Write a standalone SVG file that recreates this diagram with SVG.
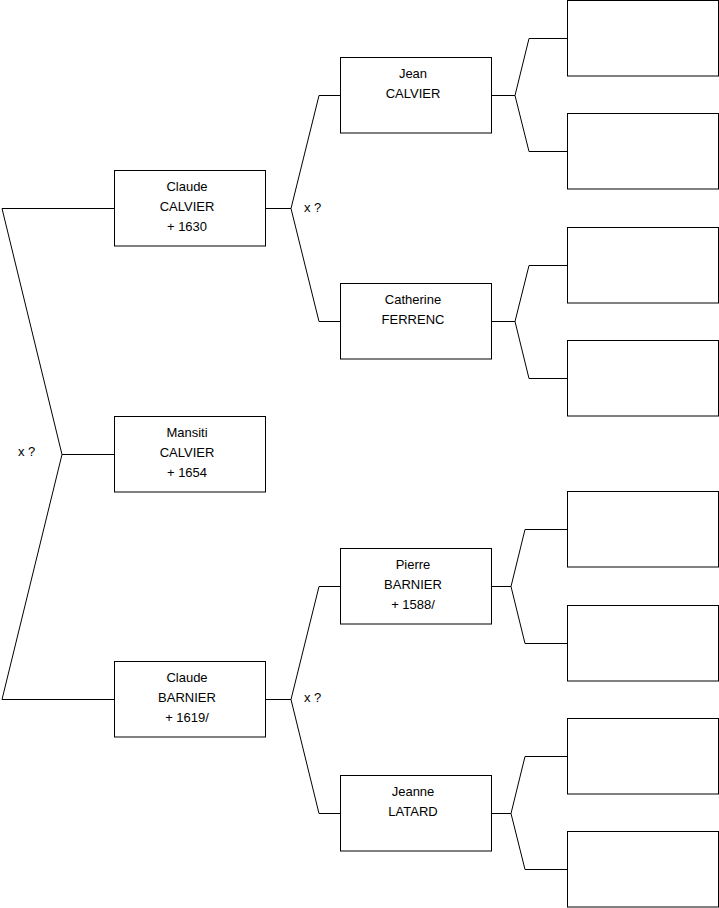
<svg xmlns="http://www.w3.org/2000/svg" width="719" height="908" viewBox="0 0 719 908">
<style>
rect{fill:#fff;stroke:#000;stroke-width:1}
.c path{fill:none;stroke:#000;stroke-width:1}
text{font-family:"Liberation Sans",Arial,sans-serif;font-size:13px;fill:#000;text-anchor:middle}
.l{text-anchor:start}
</style>
<rect x="0" y="0" width="719" height="908" style="stroke:none"/>
<g class="c" id="connectors">
<path d="M114,208.5 H2 L62,454.5 L2,699.5 H114"/>
<path d="M62,454.5 H114"/>
<path d="M265,208.5 H291 L319,95.5 H341 M291,208.5 L319,321.5 H341"/>
<path d="M265,699.5 H291 L319,586.5 H341 M291,699.5 L319,813.5 H341"/>
<path d="M491,95.5 H515 L529,38.5 H567 M515,95.5 L529,151.5 H567"/>
<path d="M491,321.5 H515 L529,265.5 H567 M515,321.5 L529,378.5 H567"/>
<path d="M491,586.5 H511 L525,529.5 H567 M511,586.5 L525,643.5 H567"/>
<path d="M491,813.5 H511 L525,756.5 H567 M511,813.5 L525,869.5 H567"/>
<text class="l" x="304" y="212">x ?</text>
<text class="l" x="304" y="702">x ?</text>
<text class="l" x="18" y="456">x ?</text>
</g>
<g id="claude-calvier"><rect x="114.5" y="170.5" width="151" height="75.5"/><text x="187" y="191">Claude</text><text x="187" y="211">CALVIER</text><text x="187" y="231">+ 1630</text></g>
<g id="mansiti-calvier"><rect x="114.5" y="416.5" width="151" height="75.5"/><text x="187" y="437">Mansiti</text><text x="187" y="457">CALVIER</text><text x="187" y="477">+ 1654</text></g>
<g id="claude-barnier"><rect x="114.5" y="661.5" width="151" height="75.5"/><text x="187" y="682">Claude</text><text x="187" y="702">BARNIER</text><text x="187" y="722">+ 1619/</text></g>
<g id="jean-calvier"><rect x="340.5" y="57.5" width="151" height="75.5"/><text x="413" y="78">Jean</text><text x="413" y="98">CALVIER</text></g>
<g id="catherine-ferrenc"><rect x="340.5" y="283.5" width="151" height="75.5"/><text x="413" y="304">Catherine</text><text x="413" y="324">FERRENC</text></g>
<g id="pierre-barnier"><rect x="340.5" y="548.5" width="151" height="75.5"/><text x="413" y="569">Pierre</text><text x="413" y="589">BARNIER</text><text x="413" y="609">+ 1588/</text></g>
<g id="jeanne-latard"><rect x="340.5" y="775.5" width="151" height="75.5"/><text x="413" y="796">Jeanne</text><text x="413" y="816">LATARD</text></g>
<g id="p1"><rect x="567.5" y="0.5" width="151" height="75.5"/></g>
<g id="p2"><rect x="567.5" y="113.5" width="151" height="75.5"/></g>
<g id="p3"><rect x="567.5" y="227.5" width="151" height="75.5"/></g>
<g id="p4"><rect x="567.5" y="340.5" width="151" height="75.5"/></g>
<g id="p5"><rect x="567.5" y="491.5" width="151" height="75.5"/></g>
<g id="p6"><rect x="567.5" y="605.5" width="151" height="75.5"/></g>
<g id="p7"><rect x="567.5" y="718.5" width="151" height="75.5"/></g>
<g id="p8"><rect x="567.5" y="831.5" width="151" height="75.5"/></g>
</svg>
